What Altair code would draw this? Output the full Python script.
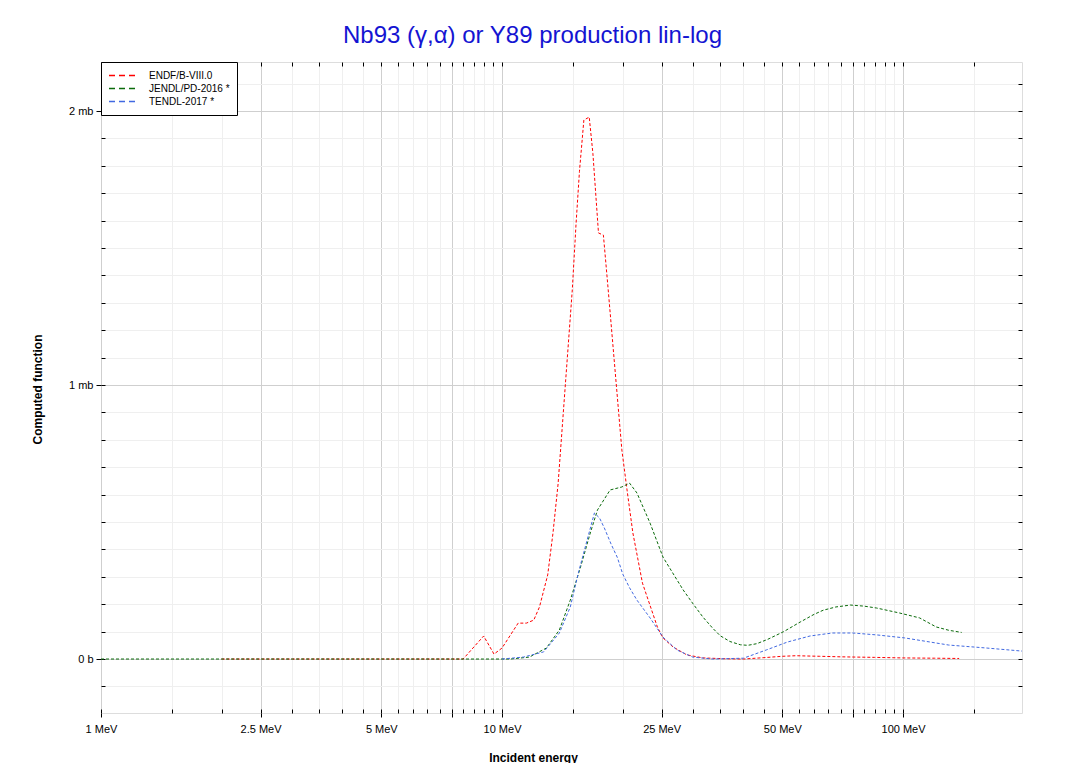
import altair as alt
import pandas as pd

# ---------------- data ----------------
endf_e = [2.0, 3.0, 5.0, 7.0, 8.0, 9.0, 9.55, 10.0, 10.97, 11.5, 12.0, 12.4, 13.0, 13.4, 13.8,
          14.97, 15.3, 15.6, 16.0, 16.5, 16.85, 17.4, 17.9, 18.4, 19.9, 20.5, 21.2, 22.4, 24.4,
          25.2, 26.7, 28.9, 31.7, 36.0, 40.0, 45.0, 50.0, 54.0, 62.0, 70.0, 85.0, 100.0, 120.0, 138.0]
endf_v = [0.0, 0.0, 0.0, 0.0, 0.0, 0.084, 0.018, 0.04, 0.131, 0.131, 0.142, 0.19, 0.307, 0.46, 0.64,
          1.347, 1.59, 1.78, 1.967, 1.978, 1.846, 1.555, 1.547, 1.347, 0.763, 0.617, 0.46, 0.277, 0.117,
          0.077, 0.044, 0.015, 0.004, 0.001, 0.0, 0.005, 0.010, 0.012, 0.010, 0.008, 0.006, 0.004, 0.003, 0.002]

jendl_e = [1.0, 3.0, 6.0, 9.0, 10.5, 11.7, 12.9, 13.9, 14.8, 15.7, 16.6, 17.3, 18.6, 19.9, 20.8,
           21.7, 23.4, 25.2, 28.3, 30.0, 31.7, 33.5, 35.0, 37.0, 39.3, 41.0, 43.2, 46.0, 50.4,
           55.4, 60.0, 63.2, 68.0, 74.0, 80.0, 86.0, 98.0, 110.0, 121.0, 130.0, 140.0]
jendl_v = [0.0, 0.0, 0.0, 0.0, 0.0, 0.007, 0.04, 0.106, 0.215, 0.336, 0.46, 0.544, 0.617, 0.628, 0.642,
           0.606, 0.496, 0.372, 0.252, 0.200, 0.153, 0.113, 0.085, 0.064, 0.052, 0.050, 0.056, 0.072, 0.100,
           0.135, 0.163, 0.178, 0.190, 0.197, 0.193, 0.186, 0.168, 0.150, 0.117, 0.105, 0.097]

tendl_e = [10.0, 11.3, 12.7, 13.9, 14.8, 15.5, 16.3, 17.0, 17.5, 18.0, 18.7, 19.4, 20.0, 20.8, 21.7,
           23.4, 25.2, 27.3, 29.9, 33.5, 40.0, 45.6, 51.5, 58.6, 66.6, 75.0, 86.0, 101.0, 130.0,
           162.0, 198.0]
tendl_v = [0.0, 0.007, 0.026, 0.095, 0.19, 0.314, 0.434, 0.533, 0.515, 0.478, 0.42, 0.37, 0.31, 0.26,
           0.215, 0.15, 0.08, 0.033, 0.007, 0.0, 0.003, 0.033, 0.062, 0.084, 0.095, 0.095, 0.088, 0.077,
           0.051, 0.04, 0.029]

series_names = ["ENDF/B-VIII.0", "JENDL/PD-2016 *", "TENDL-2017 *"]
series_colors = ["#ff0000", "#0b6b0b", "#4169e1"]

x_ticks = [1, 1.5, 2, 2.5, 3, 3.5, 4, 4.5, 5, 5.5, 6, 6.5, 7, 7.5, 8, 8.5, 9, 9.5, 10,
           15, 20, 25, 30, 35, 40, 45, 50, 55, 60, 65, 70, 75, 80, 85, 90, 95, 100, 150]
x_major = [1, 2.5, 5, 7.5, 10, 25, 50, 75, 100]
x_labeled = [1, 2.5, 5, 10, 25, 50, 100]
y_ticks = [round(-0.2 + 0.1 * i, 1) for i in range(24)]

rows = []
for name, es, vs in zip(series_names, [endf_e, jendl_e, tendl_e], [endf_v, jendl_v, tendl_v]):
    for e, v in zip(es, vs):
        rows.append({"series": name, "energy": e, "value": v})
df = pd.DataFrame(rows)

FONT = "Liberation Sans"
xmaj = "[" + ",".join(str(v) for v in x_major) + "]"
xlab = "[" + ",".join(str(v) for v in x_labeled) + "]"
ymaj_test = "abs(datum.value) < 1e-6 || abs(datum.value-1) < 1e-6 || abs(datum.value-2) < 1e-6"

x_scale = alt.Scale(type="log", domain=[1, 198], nice=False)
y_scale = alt.Scale(domain=[-0.197, 2.179], nice=False, zero=False)

color = alt.Color("series:N", scale=alt.Scale(domain=series_names, range=series_colors),
                  sort=series_names,
                  legend=alt.Legend(title=None, orient="top-left", offset=0,
                                    symbolType="stroke", symbolSize=676, clipHeight=13,
                                    symbolDash=[6, 4], symbolStrokeWidth=1.5,
                                    labelFont=FONT, labelFontSize=10, labelOffset=13,
                                    labelColor="black",
                                    padding=7, strokeColor="black", fillColor="white",
                                    rowPadding=0))

main = alt.Chart(df).mark_line(strokeWidth=1, strokeDash=[3, 2]).encode(
    x=alt.X("energy:Q", scale=x_scale,
            axis=alt.Axis(orient="bottom", values=x_ticks, grid=True,
                          gridColor={"condition": {"test": f"indexof({xmaj}, datum.value) >= 0",
                                                   "value": "#cfcfcf"}, "value": "#efefef"},
                          tickColor={"condition": {"test": f"indexof({xmaj}, datum.value) >= 0",
                                                   "value": "black"}, "value": "transparent"},
                          tickSize=4, domain=False,
                          labelExpr=f"indexof({xlab}, datum.value) >= 0 ? datum.value + ' MeV' : ''",
                          labelFont=FONT, labelFontSize=11, labelColor="black", labelPadding=6,
                          labelFlush=False, labelOverlap=False,
                          title="Incident energy", titleFont=FONT, titleFontSize=12,
                          titleFontWeight="bold", titleColor="black",
                          titleX=432, titleY=44, titleBaseline="middle")),
    y=alt.Y("value:Q", scale=y_scale,
            axis=alt.Axis(orient="left", values=y_ticks, grid=True,
                          gridColor={"condition": {"test": ymaj_test, "value": "#cfcfcf"},
                                     "value": "#efefef"},
                          tickColor={"condition": {"test": ymaj_test, "value": "black"},
                                     "value": "transparent"},
                          tickSize=5, domain=False,
                          labelExpr="abs(datum.value) < 1e-6 ? '0 b' : (abs(datum.value-1) < 1e-6 ? '1 mb' : (abs(datum.value-2) < 1e-6 ? '2 mb' : ''))",
                          labelFont=FONT, labelFontSize=11, labelColor="black", labelPadding=3,
                          labelOverlap=False,
                          title="Computed function", titleFont=FONT, titleFontSize=12,
                          titleFontWeight="bold", titleColor="black",
                          titleX=-64, titleY=327, titleBaseline="middle", titleAngle=270)),
    color=color,
)

# inward ticks on bottom / left
inner_bl = alt.Chart(df).mark_line(opacity=0).encode(
    x=alt.X("energy:Q", scale=x_scale,
            axis=alt.Axis(orient="bottom", values=x_ticks, grid=False, labels=False, title=None,
                          domain=False, tickColor="black", tickSize={"expr": "-4"})),
    y=alt.Y("value:Q", scale=y_scale,
            axis=alt.Axis(orient="left", values=y_ticks, grid=False, labels=False, title=None,
                          domain=False, tickColor="black", tickSize={"expr": "-4"})),
    detail="series:N",
)

# inward ticks on top / right
inner_tr = alt.Chart(df).mark_line(opacity=0).encode(
    x=alt.X("energy:Q", scale=x_scale,
            axis=alt.Axis(orient="top", values=x_ticks, grid=False, labels=False, title=None,
                          domain=False, tickColor="black", tickSize={"expr": "-4"})),
    y=alt.Y("value:Q", scale=y_scale,
            axis=alt.Axis(orient="right", values=y_ticks, grid=False, labels=False, title=None,
                          domain=False, tickColor="black", tickSize={"expr": "-4"})),
    detail="series:N",
)

chart = alt.layer(main, inner_bl, inner_tr).resolve_axis(
    x="independent", y="independent"
).resolve_scale(x="shared", y="shared").properties(
    width=921, height=651,
    autosize=alt.AutoSizeParams(type="none"),
    padding={"left": 93, "top": 54, "right": 40, "bottom": 50},
    title=alt.TitleParams("Nb93 (γ,α) or Y89 production lin-log", font=FONT, fontSize=24,
                          fontWeight="normal", color="#1414d2", anchor="middle", dx=-29,
                          offset=14),
).configure_view(stroke="black", strokeWidth=1.5).configure(background="white")

chart.save("out.html", embed_options={"renderer": "svg", "actions": False})
